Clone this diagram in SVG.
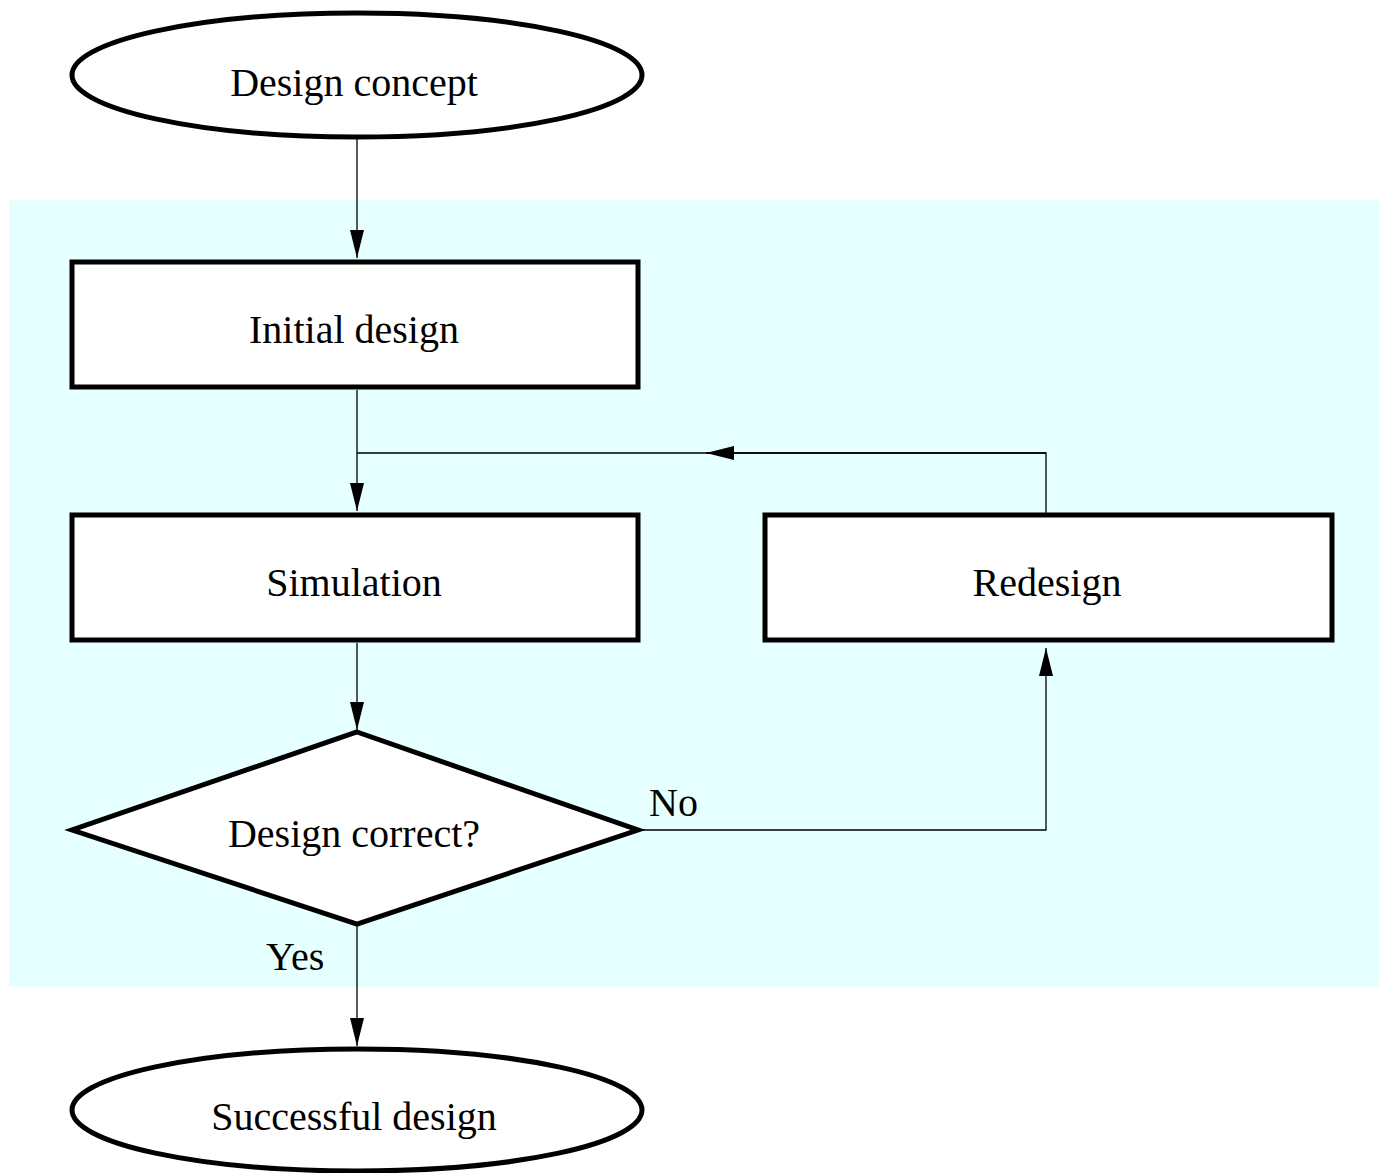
<svg xmlns="http://www.w3.org/2000/svg" width="1379" height="1173" viewBox="0 0 1379 1173">
  <style>
    .shape { fill: #ffffff; stroke: #000000; stroke-width: 5; }
    .edge { fill: none; stroke: #000000; stroke-width: 1.3; }
    .label { font-family: "Liberation Serif", "Times New Roman", serif; font-size: 40px; fill: #000000; }
    .mid { text-anchor: middle; }
  </style>
  <defs>
    <marker id="arrow" viewBox="0 0 28 14" refX="28" refY="7" markerWidth="28" markerHeight="14" markerUnits="userSpaceOnUse" orient="auto">
      <path d="M0,0 L28,7 L0,14 Z" fill="#000000"/>
    </marker>
  </defs>

  <rect x="0" y="0" width="1379" height="1173" fill="#ffffff"/>
  <!-- design loop region -->
  <rect x="9" y="200" width="1370" height="787" fill="#e6ffff"/>

  <g id="connectors">
    <line class="edge" x1="357" y1="139" x2="357" y2="258" marker-end="url(#arrow)"/>
    <line class="edge" x1="357" y1="390" x2="357" y2="511" marker-end="url(#arrow)"/>
    <polyline class="edge" points="1046,515 1046,453 357,453"/>
    <line class="edge" x1="1046" y1="453" x2="706" y2="453" marker-end="url(#arrow)"/>
    <line class="edge" x1="357" y1="643" x2="357" y2="730" marker-end="url(#arrow)"/>
    <polyline class="edge" points="640,830 1046,830 1046,648" marker-end="url(#arrow)"/>
    <line class="edge" x1="357" y1="926" x2="357" y2="1046" marker-end="url(#arrow)"/>
    <text class="label" x="649" y="816">No</text>
    <text class="label" x="266" y="970">Yes</text>
  </g>

  <g id="design-concept">
    <ellipse class="shape" cx="357" cy="75" rx="285" ry="62"/>
    <text class="label mid" x="354" y="96">Design concept</text>
  </g>

  <g id="initial-design">
    <rect class="shape" x="72" y="262" width="566" height="125"/>
    <text class="label mid" x="354" y="343">Initial design</text>
  </g>

  <g id="simulation">
    <rect class="shape" x="72" y="515" width="566" height="125"/>
    <text class="label mid" x="354" y="596">Simulation</text>
  </g>

  <g id="redesign">
    <rect class="shape" x="765" y="515" width="567" height="125"/>
    <text class="label mid" x="1047" y="596">Redesign</text>
  </g>

  <g id="design-correct">
    <polygon class="shape" points="357,732 638,830 357,924 72,830"/>
    <text class="label mid" x="354" y="847">Design correct?</text>
  </g>

  <g id="successful-design">
    <ellipse class="shape" cx="357" cy="1110" rx="285" ry="61"/>
    <text class="label mid" x="354" y="1130">Successful design</text>
  </g>
</svg>
